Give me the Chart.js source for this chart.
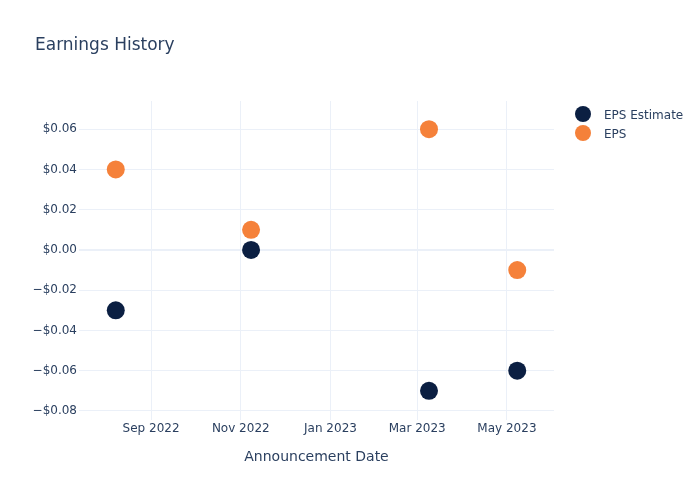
<!DOCTYPE html>
<html>
<head>
<meta charset="utf-8">
<script src="https://cdn.jsdelivr.net/npm/chart.js@4.4.0/dist/chart.umd.min.js"></script>
<style>
  body { margin: 0; background: #fff; font-family: "DejaVu Sans", Verdana, sans-serif; }
  #wrap { position: relative; width: 700px; height: 500px; }
  #chart { position: absolute; left: 0; top: 0; }
  .title { position: absolute; left: 35px; top: 34px; font-size: 17px; color: #2a3f5f; }
  .legend { position: absolute; left: 575px; top: 106px; font-size: 12px; color: #2a3f5f; }
  .legend div { height: 19px; line-height: 19px; white-space: nowrap; }
  .legend span { display: inline-block; width: 16px; height: 16px; border-radius: 50%; vertical-align: middle; margin: -3px 13px 0 0; }
</style>
</head>
<body>
<div id="wrap">
  <canvas id="chart" width="700" height="500"></canvas>
  <div class="title">Earnings History</div>
  <div class="legend">
    <div><span style="background:#0b1f42"></span>EPS Estimate</div>
    <div><span style="background:#f5813a"></span>EPS</div>
  </div>
</div>
<script>
// chart values
const announceDates = ['2022-08-08', '2022-11-08', '2023-03-09', '2023-05-08'];
const epsEstimate = [-0.03, 0.00, -0.07, -0.06];
const epsActual = [0.04, 0.01, 0.06, -0.01];
const xTickDates = ['2022-09-01', '2022-11-01', '2023-01-01', '2023-03-01', '2023-05-01'];
const xTickLabels = ['Sep 2022', 'Nov 2022', 'Jan 2023', 'Mar 2023', 'May 2023'];
const yTicks = [-0.08, -0.06, -0.04, -0.02, 0, 0.02, 0.04, 0.06];

const toTime = s => new Date(s + 'T00:00:00Z').getTime();
const xTicks = xTickDates.map(toTime);

function points(vals) {
    return announceDates.map((d, i) => ({ x: toTime(d), y: vals[i] }));
}

const fontCol = '#2a3f5f';
const gridCol = '#ebf0f8';

new Chart(document.getElementById('chart').getContext('2d'), {
    type: 'scatter',
    data: {
        datasets: [
            {
                label: 'EPS Estimate',
                data: points(epsEstimate),
                backgroundColor: '#0b1f42',
                borderWidth: 0,
                pointRadius: 9,
                pointHoverRadius: 9
            },
            {
                label: 'EPS',
                data: points(epsActual),
                backgroundColor: '#f5813a',
                borderWidth: 0,
                pointRadius: 9,
                pointHoverRadius: 9
            }
        ]
    },
    options: {
        responsive: false,
        animation: false,
        layout: { padding: { top: 101, right: 146, left: 1, bottom: 0 } },
        plugins: {
            legend: { display: false },
            tooltip: { enabled: false }
        },
        scales: {
            x: {
                type: 'linear',
                min: toTime('2022-07-14'),
                max: toTime('2023-06-02'),
                afterBuildTicks: s => { s.ticks = xTicks.map(v => ({ value: v })); },
                afterFit: s => { s.height = 80; },
                ticks: {
                    color: fontCol,
                    font: { family: 'DejaVu Sans', size: 12 },
                    padding: 2,
                    maxRotation: 0,
                    autoSkip: false,
                    callback: v => xTickLabels[xTicks.indexOf(v)]
                },
                grid: { color: gridCol, drawTicks: false },
                border: { display: false },
                title: {
                    display: true,
                    text: 'Announcement Date',
                    color: fontCol,
                    font: { family: 'DejaVu Sans', size: 14 },
                    padding: { top: 0, bottom: 34 }
                }
            },
            y: {
                min: -0.0845,
                max: 0.074,
                afterBuildTicks: s => { s.ticks = yTicks.map(v => ({ value: v })); },
                afterFit: s => { s.width = 78; },
                ticks: {
                    color: fontCol,
                    font: { family: 'DejaVu Sans', size: 12 },
                    padding: 2,
                    callback: v => (v < -1e-9 ? '\u2212$' : '$') + Math.abs(v).toFixed(2)
                },
                grid: {
                    color: gridCol,
                    drawTicks: false,
                    lineWidth: c => (Math.abs(c.tick.value) < 1e-9 ? 2 : 1)
                },
                border: { display: false }
            }
        }
    }
});
</script>
</body>
</html>
